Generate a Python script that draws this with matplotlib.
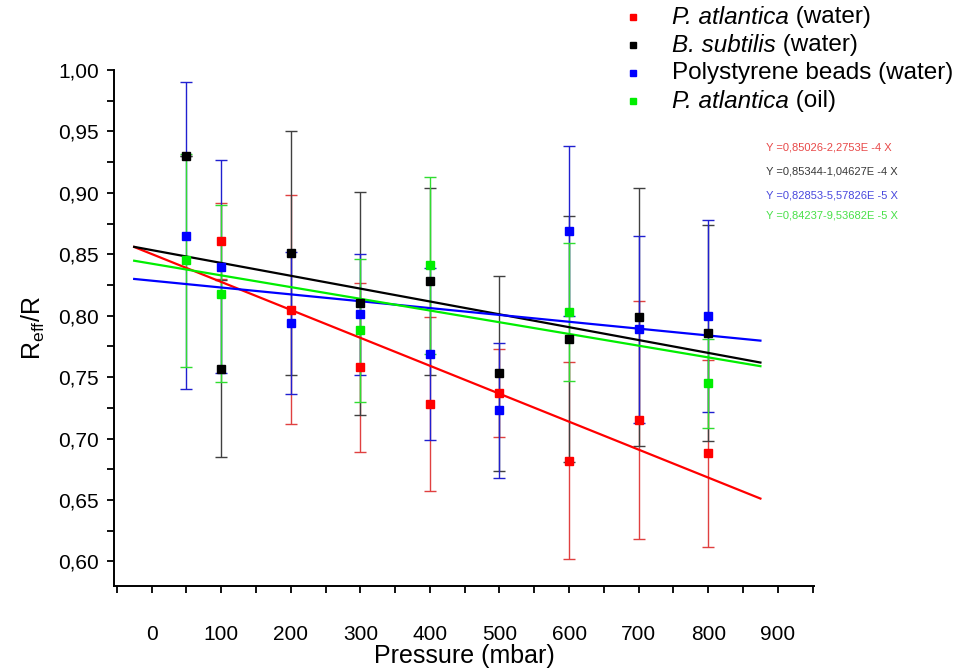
import matplotlib
matplotlib.use("Agg")
import matplotlib.pyplot as plt
from matplotlib.lines import Line2D
from matplotlib.ticker import MultipleLocator, FuncFormatter
import numpy as np

plt.rcParams["font.family"] = ["Liberation Sans", "DejaVu Sans"]
plt.rcParams["mathtext.fontset"] = "custom"
plt.rcParams["mathtext.rm"] = "Liberation Sans"
plt.rcParams["mathtext.it"] = "Liberation Sans:italic"

# --- measured ratios R_eff/R versus applied pressure ---
pa_water_x = [100, 200, 300, 400, 500, 600, 700, 800]
pa_water_y = [0.861, 0.805, 0.758, 0.728, 0.737, 0.682, 0.715, 0.688]
pa_water_err = [0.031, 0.093, 0.069, 0.071, 0.036, 0.080, 0.097, 0.076]

bs_water_x = [50, 100, 200, 300, 400, 500, 600, 700, 800]
bs_water_y = [0.930, 0.757, 0.851, 0.810, 0.828, 0.753, 0.781, 0.799, 0.786]
bs_water_err = [0.0, 0.072, 0.099, 0.091, 0.076, 0.079, 0.100, 0.105, 0.088]

beads_x = [50, 100, 200, 300, 400, 500, 600, 700, 800]
beads_y = [0.865, 0.840, 0.794, 0.801, 0.769, 0.723, 0.869, 0.789, 0.800]
beads_err = [0.125, 0.087, 0.058, 0.049, 0.070, 0.055, 0.069, 0.076, 0.078]

pa_oil_x = [50, 100, 300, 400, 600, 800]
pa_oil_y = [0.845, 0.818, 0.788, 0.841, 0.803, 0.745]
pa_oil_err = [0.087, 0.072, 0.058, 0.072, 0.056, 0.036]

# linear fits: Y = A + B X
fit_intercepts = [0.85026, 0.85344, 0.82853, 0.84237]
fit_slopes = [-2.2753e-4, -1.04627e-4, -5.57826e-5, -9.53682e-5]
fit_labels = ["Y =0,85026-2,2753E -4 X", "Y =0,85344-1,04627E -4 X",
              "Y =0,82853-5,57826E -5 X", "Y =0,84237-9,53682E -5 X"]
fit_range = [-25, 875]

# legend entries: (italic part, upright part)
legend_italic = ["P. atlantica", "B. subtilis", "", "P. atlantica"]
legend_plain = [" (water)", " (water)", "Polystyrene beads (water)", " (oil)"]

marker_colors = ["#ff0000", "#000000", "#0000ff", "#00ee00"]
bar_colors = ["#e04040", "#404040", "#2020d0", "#30dd30"]
eq_colors = ["#e84848", "#383838", "#4848dd", "#48e048"]

series = [
    (pa_water_x, pa_water_y, pa_water_err),
    (bs_water_x, bs_water_y, bs_water_err),
    (beads_x, beads_y, beads_err),
    (pa_oil_x, pa_oil_y, pa_oil_err),
]

W, H = 957, 671
fig = plt.figure(figsize=(W / 100, H / 100), dpi=100)
ax = fig.add_axes([114 / W, 1 - 586 / H, 700 / W, 516 / H])

for i, (x, y, e) in enumerate(series):
    ax.errorbar(x, y, yerr=e, fmt="none", ecolor=bar_colors[i], elinewidth=1.0,
                capsize=4.5, capthick=1.0, zorder=2 + i * 0.01)

xf = np.array(fit_range, dtype=float)
for i in range(4):
    ax.plot(xf, fit_intercepts[i] + fit_slopes[i] * xf, color=marker_colors[i],
            lw=1.6, zorder=3)

for i, (x, y, e) in enumerate(series):
    ax.plot(x, y, ls="none", marker="s", ms=6, mfc=marker_colors[i],
            mec=marker_colors[i], zorder=4)

ax.set_xlim(-54, 952)
ax.set_ylim(0.58, 1.0)
ax.xaxis.set_major_locator(MultipleLocator(100))
ax.xaxis.set_minor_locator(MultipleLocator(50))
ax.yaxis.set_major_locator(MultipleLocator(0.05))
ax.yaxis.set_minor_locator(MultipleLocator(0.025))
ax.yaxis.set_major_formatter(FuncFormatter(lambda v, p: f"{v:.2f}".replace(".", ",")))
ax.xaxis.set_major_formatter(FuncFormatter(lambda v, p: f"{v:.0f}"))

for s in ["top", "right"]:
    ax.spines[s].set_visible(False)
for s in ["left", "bottom"]:
    ax.spines[s].set_linewidth(1.4)
ax.tick_params(which="major", direction="out", length=5, width=1.3, labelsize=15)
ax.tick_params(which="minor", direction="out", length=5, width=1.3)
ax.tick_params(axis="y", which="major", pad=6)
ax.tick_params(axis="x", which="major", pad=23)

ax.set_xlabel("Pressure (mbar)", fontsize=18, va="center")
ax.xaxis.set_label_coords(0.501, (586 - 656) / 516)
ax.set_ylabel(r"R$_{\mathrm{eff}}$/R", fontsize=18, labelpad=8)

# legend drawn entry by entry so the species names can be italic
renderer = fig.canvas.get_renderer()
row_y = [17, 45, 73, 101]
for i in range(4):
    yf = 1 - row_y[i] / H
    fig.add_artist(Line2D([633 / W], [yf], transform=fig.transFigure, ls="none",
                          marker="s", ms=5, mfc=marker_colors[i], mec=marker_colors[i]))
    x0 = 672
    if legend_italic[i]:
        t = fig.text(x0 / W, yf, legend_italic[i], fontsize=17.5, style="italic",
                     va="center", ha="left")
        x0 += t.get_window_extent(renderer).width
    fig.text(x0 / W, yf, legend_plain[i], fontsize=17.5, va="center", ha="left")

eq_y = [148, 172, 195, 216]
for i in range(4):
    fig.text(766 / W, 1 - eq_y[i] / H, fit_labels[i], color=eq_colors[i],
             fontsize=8, va="center", ha="left")

fig.savefig("out.png", dpi=100)
